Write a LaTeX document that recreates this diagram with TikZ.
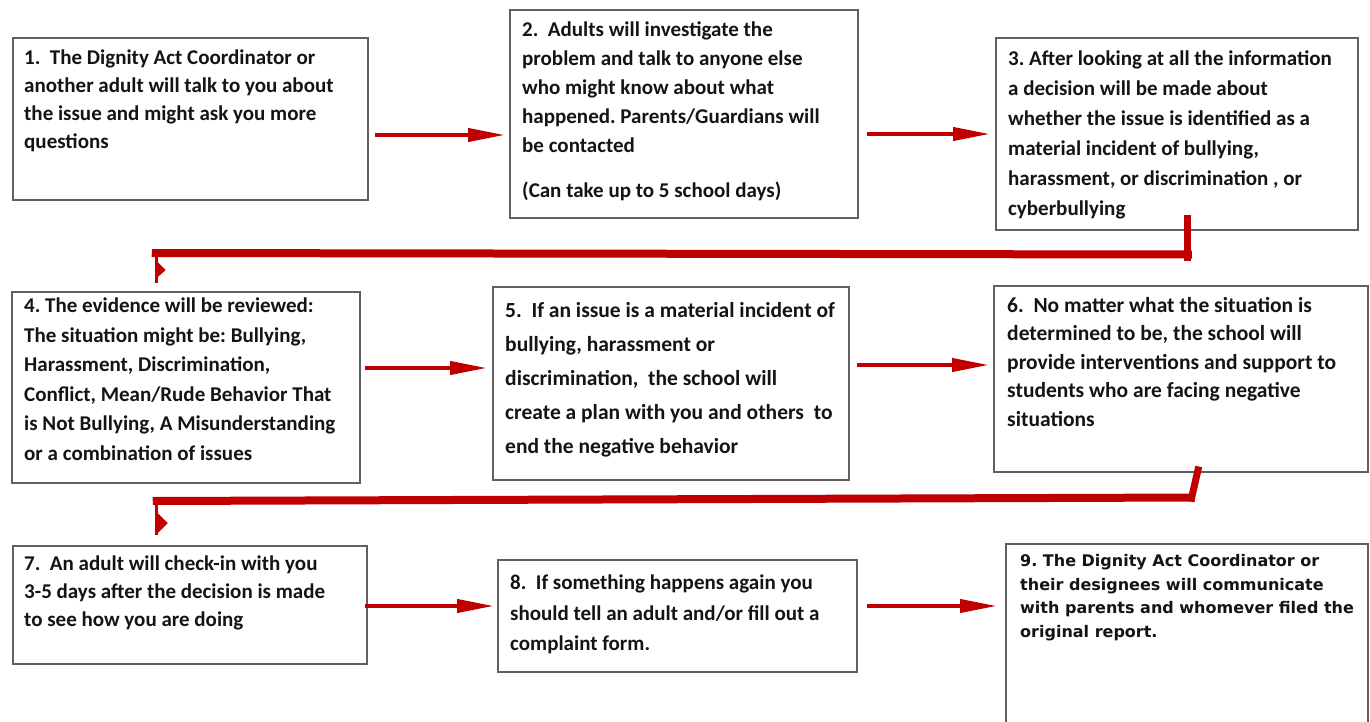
\documentclass[tikz,border=0pt]{standalone}
\usepackage{fontspec}
\setmainfont{Carlito}
\newfontfamily\dvsfont{DejaVu Sans}
\usetikzlibrary{arrows.meta,calc}
\definecolor{arrred}{HTML}{C00000}
\definecolor{boxgray}{HTML}{606060}
\definecolor{txtcol}{HTML}{141414}
\newcommand\fsz[2]{\fontsize{#1}{#2}\selectfont}
\frenchspacing
\tikzset{
  box/.style={draw=boxgray, line width=1.5pt, rectangle, inner sep=0pt, anchor=north west, fill=white},
  txt/.style={anchor=north west, inner sep=0pt, align=left, text=txtcol},
  arr/.style={draw=arrred, line width=4pt, -{Triangle[length=37pt,width=13pt]}},
  elbow/.style={draw=arrred, line width=8pt},
  thinred/.style={draw=arrred, line width=3pt},
}
\begin{document}
\begin{tikzpicture}[x=1pt,y=-1pt]
\useasboundingbox (0,0) rectangle (1370,721);
% boxes
\node[box, minimum width=355pt, minimum height=162pt] (b1) at (12,37) {};
\node[box, minimum width=348pt, minimum height=208pt] (b2) at (509,9) {};
\node[box, minimum width=362pt, minimum height=192pt] (b3) at (995,37) {};
\node[box, minimum width=348pt, minimum height=191pt] (b4) at (11,291) {};
\node[box, minimum width=356pt, minimum height=193pt] (b5) at (492,286) {};
\node[box, minimum width=374pt, minimum height=186pt] (b6) at (993,285) {};
\node[box, minimum width=354pt, minimum height=118pt] (b7) at (12,545) {};
\node[box, minimum width=359pt, minimum height=112pt] (b8) at (497,559) {};
\node[box, minimum width=362pt, minimum height=182pt] (b9) at (1005,543) {};
% texts
\node[txt, font=\bfseries\fsz{21}{28}] (t1) at (24,50) {1.~ The Dignity Act Coordinator or\\another adult will talk to you about\\the issue and might ask you more\\questions};
\node[txt, font=\bfseries\fsz{21}{29}] (t2) at (522,22) {2.~ Adults will investigate the\\problem and talk to anyone else\\who might know about what\\happened. Parents/Guardians will\\be contacted\\[16pt](Can take up to 5 school days)};
\node[txt, font=\bfseries\fsz{21}{30}] (t3) at (1008,51) {3. After looking at all the information\\a decision will be made about\\whether the issue is identified as a\\material incident of bullying,\\harassment, or discrimination , or\\cyberbullying};
\node[txt, font=\bfseries\fsz{21}{29.5}] (t4) at (24,298) {4. The evidence will be reviewed:\\The situation might be: Bullying,\\Harassment, Discrimination,\\Conflict, Mean/Rude Behavior That\\is Not Bullying, A Misunderstanding\\or a combination of issues};
\node[txt, font=\bfseries\fsz{21.5}{34}] (t5) at (505,302) {5.~ If an issue is a material incident of\\bullying, harassment or\\discrimination,~ the school will\\create a plan with you and others~ to\\end the negative behavior};
\node[txt, font=\bfseries\fsz{21.5}{28.5}] (t6) at (1007,297) {6.~ No matter what the situation is\\determined to be, the school will\\provide interventions and support to\\students who are facing negative\\situations};
\node[txt, font=\bfseries\fsz{21}{28}] (t7) at (24,556) {7.~ An adult will check-in with you\\3-5 days after the decision is made\\to see how you are doing};
\node[txt, font=\bfseries\fsz{21}{30.5}] (t8) at (510,575) {8.~ If something happens again you\\should tell an adult and/or fill out a\\complaint form.};
\node[txt, font=\dvsfont\bfseries\fsz{16}{23.7}] (t9) at (1020,554) {9. The Dignity Act Coordinator or\\their designees will communicate\\with parents and whomever filed the\\original report.};
% straight arrows
\draw[arr] ($(b1.east |- 0,135)+(6,0)$) -- ($(b2.west |- 0,135)+(-4,0)$);
\draw[arr] ($(b2.east |- 0,134)+(8,0)$) -- ($(b3.west |- 0,134)+(-5,0)$);
\draw[arr] ($(b4.east |- 0,368)+(4,0)$) -- ($(b5.west |- 0,368)+(-5,0)$);
\draw[arr] ($(b5.east |- 0,365)+(7,0)$) -- ($(b6.west |- 0,365)+(-4,0)$);
\draw[arr] ($(b7.east |- 0,606)+(-3,0)$) -- ($(b8.west |- 0,606)+(-3,0)$);
\draw[arr] ($(b8.east |- 0,606)+(9,0)$) -- ($(b9.west |- 0,606)+(-8,0)$);
% elbow 3 -> 4
\draw[draw=arrred, line width=7pt] ($(b3.south)+(11,-16)$) -- ($(b3.south)+(11,30)$);
\draw[elbow] ($(b3.south)+(15,24)$) -- ($(b4.north)+(-34,-38)$);
\draw[thinred] ($(b4.north)+(-29,-42)$) -- ($(b4.north)+(-29,-8)$);
\fill[arrred] ($(b4.north)+(-28,-29)$) -- ($(b4.north)+(-20,-21)$) -- ($(b4.north)+(-28,-14)$) -- cycle;
% elbow 6 -> 7
\draw[draw=arrred, line width=7pt] ($(b6.south)+(18,-6)$) -- ($(b6.south)+(10,29)$);
\draw[elbow] ($(b6.south)+(14,25)$) -- ($(b7.north)+(-37,-44)$);
\draw[thinred] ($(b7.north)+(-33,-48)$) -- ($(b7.north)+(-33,-10)$);
\fill[arrred] ($(b7.north)+(-32,-32)$) -- ($(b7.north)+(-22,-22)$) -- ($(b7.north)+(-32,-12)$) -- cycle;
\end{tikzpicture}
\end{document}
